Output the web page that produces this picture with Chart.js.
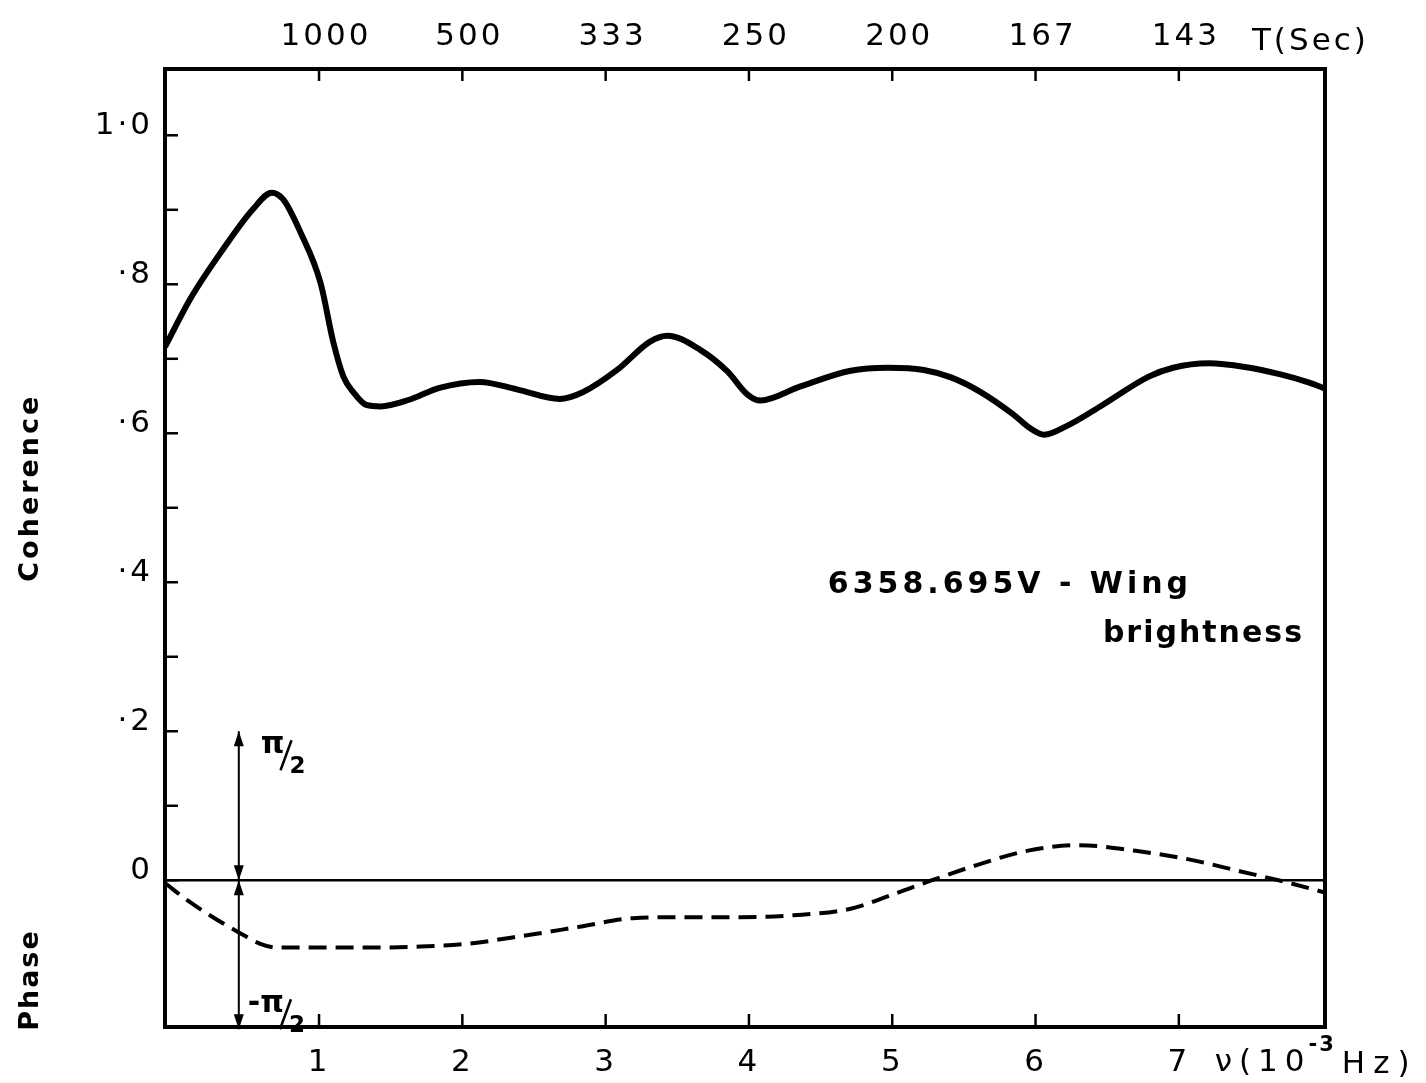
<!DOCTYPE html>
<html>
<head>
<meta charset="utf-8">
<script src="https://cdn.jsdelivr.net/npm/chart.js@4.4.1/dist/chart.umd.min.js"></script>
<style>
  html, body { margin: 0; padding: 0; background: #fff; }
  #wrap { width: 1426px; height: 1083px; }
</style>
</head>
<body>
<div id="wrap"><canvas id="chart" width="1426" height="1083"></canvas></div>
<script>
const canvas = document.getElementById("chart");
const FONT = "'DejaVu Sans', sans-serif";

// bottom axis: frequency in 10^-3 Hz
const freqTicks = [1, 2, 3, 4, 5, 6, 7];
const freqLabels = ["1", "2", "3", "4", "5", "6", "7"];
// top axis: period T = 1000 / nu (sec)
const periodLabels = ["1000", "500", "333", "250", "200", "167", "143"];
// left axis: coherence
const cohTicks = [0, 0.1, 0.2, 0.3, 0.4, 0.5, 0.6, 0.7, 0.8, 0.9, 1.0];
const cohLabels = ["0", "", "·2", "", "·4", "", "·6", "", "·8", "", "1·0"];

// coherence curve (solid)
const cohFreq = [-0.075, 0.10, 0.33, 0.54, 0.67, 0.75, 0.87, 1.01, 1.10, 1.17, 1.24, 1.33, 1.43, 1.63, 1.84,
    2.12, 2.38, 2.68, 2.84, 3.08, 3.31, 3.43, 3.66, 3.85, 3.99, 4.08, 4.36, 4.71, 4.97, 5.22, 5.41, 5.62,
    5.84, 5.96, 6.06, 6.22, 6.46, 6.79, 6.96, 7.21, 7.46, 7.71, 7.91, 8.02];
const coherence = [0.716, 0.780, 0.847, 0.901, 0.923, 0.914, 0.870, 0.802, 0.722, 0.676, 0.655, 0.638, 0.636, 0.645, 0.661,
    0.669, 0.659, 0.646, 0.655, 0.685, 0.723, 0.731, 0.712, 0.683, 0.652, 0.644, 0.663, 0.684, 0.688, 0.685, 0.675, 0.655,
    0.626, 0.607, 0.598, 0.610, 0.637, 0.676, 0.688, 0.694, 0.689, 0.679, 0.668, 0.660];

// phase curve (dashed), radians; pi/2 is drawn at the height of coherence 0.2
const phaseFreq = [-0.075, 0.08, 0.26, 0.44, 0.59, 0.71, 0.99, 1.33, 1.68, 2.03, 2.45, 2.82, 3.19, 3.52,
    3.94, 4.31, 4.71, 5.04, 5.24, 5.59, 5.94, 6.30, 6.70, 7.07, 7.44, 7.75, 8.02];
const phase = [-0.03, -0.21, -0.39, -0.55, -0.67, -0.71, -0.71, -0.71, -0.70, -0.67, -0.58, -0.49, -0.40, -0.39,
    -0.39, -0.37, -0.30, -0.13, -0.02, 0.16, 0.31, 0.37, 0.31, 0.22, 0.09, -0.02, -0.13];

const X_MIN = -0.075, X_MAX = 8.02;
const Y_MIN = -0.197, Y_MAX = 1.089;
const PHASE_SCALE = (Math.PI / 2) / 0.2;
const ARROW_FREQ = 0.44;

function line(ctx, x1, y1, x2, y2) {
    ctx.beginPath();
    ctx.moveTo(x1, y1);
    ctx.lineTo(x2, y2);
    ctx.stroke();
}

function arrowHead(ctx, x, y, dir) {
    // dir = -1 points up, 1 points down
    ctx.beginPath();
    ctx.moveTo(x, y);
    ctx.lineTo(x - 5, y - dir * 15);
    ctx.lineTo(x + 5, y - dir * 15);
    ctx.closePath();
    ctx.fill();
}

function text(ctx, str, x, y, size, opts = {}) {
    ctx.save();
    ctx.font = (opts.weight || "normal") + " " + size + "px " + FONT;
    ctx.letterSpacing = (opts.spacing !== undefined ? opts.spacing : 3) + "px";
    ctx.textAlign = opts.align || "left";
    ctx.textBaseline = opts.baseline || "alphabetic";
    ctx.fillStyle = "#000";
    if (opts.rotate) {
        ctx.translate(x, y);
        ctx.rotate(opts.rotate);
        ctx.fillText(str, 0, 0);
    } else {
        ctx.fillText(str, x, y);
    }
    ctx.restore();
}

// "pi over 2" written as a slanted fraction
function halfPi(ctx, x, y, sign) {
    text(ctx, sign + "π", x, y, 30, { spacing: 0, weight: "bold" });
    ctx.save();
    ctx.font = "bold 30px " + FONT;
    ctx.letterSpacing = "0px";
    const w = ctx.measureText(sign + "π").width;
    ctx.restore();
    ctx.save();
    ctx.strokeStyle = "#000";
    ctx.lineWidth = 2.5;
    line(ctx, x + w - 4, y + 17, x + w + 7, y - 13);
    ctx.restore();
    text(ctx, "2", x + w + 5, y + 20, 23, { spacing: 0, weight: "bold" });
}

const figure = {
    id: "figure",
    beforeDraw(chart) {
        chart.ctx.letterSpacing = "3px";
    },
    afterDatasetsDraw(chart) {
        const { ctx, chartArea: a, scales } = chart;
        ctx.save();
        ctx.strokeStyle = "#000";
        ctx.lineWidth = 2.5;
        // inward tick marks
        scales.y.ticks.forEach((t) => {
            const py = scales.y.getPixelForValue(t.value);
            line(ctx, a.left, py, a.left + 13, py);
        });
        scales.x.ticks.forEach((t) => {
            const px = scales.x.getPixelForValue(t.value);
            line(ctx, px, a.bottom, px, a.bottom - 13);
        });
        scales.x2.ticks.forEach((t) => {
            const px = scales.x2.getPixelForValue(t.value);
            line(ctx, px, a.top, px, a.top + 12);
        });
        // frame
        ctx.lineWidth = 4;
        ctx.strokeRect(a.left, a.top, a.right - a.left, a.bottom - a.top);
        ctx.restore();
    },
    afterDraw(chart) {
        const { ctx, chartArea: a, scales } = chart;
        const x = scales.x, y = scales.y, yp = scales.yPhase;
        ctx.save();
        ctx.letterSpacing = "0px";
        ctx.strokeStyle = "#000";
        ctx.fillStyle = "#000";
        ctx.lineWidth = 2;

        // pi/2 arrows
        const ax = x.getPixelForValue(ARROW_FREQ);
        const y0 = yp.getPixelForValue(0);
        const yUp = yp.getPixelForValue(Math.PI / 2);
        const yDown = yp.getPixelForValue(-Math.PI / 2);
        line(ctx, ax, yUp, ax, yDown);
        arrowHead(ctx, ax, yUp, -1);
        arrowHead(ctx, ax, y0, 1);
        arrowHead(ctx, ax, y0, -1);
        arrowHead(ctx, ax, yDown, 1);
        ctx.restore();

        halfPi(ctx, ax + 22, yUp + 22, "");
        halfPi(ctx, ax + 9, yDown - 17, "-");

        // axis names
        text(ctx, "Coherence", a.left - 134, y.getPixelForValue(0.527), 27,
            { align: "center", baseline: "middle", rotate: -Math.PI / 2, weight: "bold", spacing: 3 });
        text(ctx, "Phase", a.left - 134, y.getPixelForValue(-0.134), 27,
            { align: "center", baseline: "middle", rotate: -Math.PI / 2, weight: "bold", spacing: 2 });

        // unit labels
        text(ctx, "T(Sec)", x.getPixelForValue(7.51), 42, 31, { baseline: "middle", spacing: 3 });
        const uy = a.bottom + 36;
        let ux = x.getPixelForValue(7.25);
        ctx.save();
        ctx.font = "31px " + FONT;
        ctx.letterSpacing = "7px";
        text(ctx, "ν(10", ux, uy, 31, { baseline: "middle", spacing: 7 });
        ux += ctx.measureText("ν(10").width - 3;
        ctx.font = "bold 21px " + FONT;
        ctx.letterSpacing = "2px";
        text(ctx, "-3", ux, uy - 17, 21, { baseline: "middle", spacing: 2, weight: "bold" });
        ux += ctx.measureText("-3").width + 6;
        text(ctx, "Hz)", ux, uy + 2, 31, { baseline: "middle", spacing: 8 });
        ctx.restore();

        // line annotation
        text(ctx, "6358.695V - Wing", x.getPixelForValue(4.55), y.getPixelForValue(0.385), 30,
            { weight: "bold", spacing: 4 });
        text(ctx, "brightness", x.getPixelForValue(6.47), y.getPixelForValue(0.32), 30,
            { weight: "bold", spacing: 2 });
    },
};

const chartInstance = new Chart(canvas, {
    type: "line",
    data: {
        datasets: [
            {
                label: "Coherence",
                data: cohFreq.map((f, i) => ({ x: f, y: coherence[i] })),
                borderColor: "#000",
                borderWidth: 6,
                pointRadius: 0,
                cubicInterpolationMode: "monotone",
                fill: false,
                xAxisID: "x",
                yAxisID: "y",
            },
            {
                label: "Phase",
                data: phaseFreq.map((f, i) => ({ x: f, y: phase[i] })),
                borderColor: "#000",
                borderWidth: 4,
                borderDash: [18, 9],
                pointRadius: 0,
                cubicInterpolationMode: "monotone",
                fill: false,
                xAxisID: "x",
                yAxisID: "yPhase",
            },
        ],
    },
    options: {
        responsive: false,
        animation: false,
        devicePixelRatio: 1,
        layout: { padding: { left: 0, right: 101, top: 0, bottom: 0 } },
        plugins: {
            legend: { display: false },
            tooltip: { enabled: false },
        },
        scales: {
            x: {
                type: "linear",
                position: "bottom",
                min: X_MIN,
                max: X_MAX,
                afterBuildTicks: (s) => { s.ticks = freqTicks.map((v) => ({ value: v })); },
                afterFit: (s) => { s.height = 56; },
                grid: { drawOnChartArea: false, drawTicks: false },
                border: { display: false },
                ticks: {
                    callback: (v) => freqLabels[freqTicks.indexOf(v)],
                    font: { family: FONT, size: 31 },
                    color: "#000",
                    padding: 17,
                    maxRotation: 0,
                    autoSkip: false,
                },
            },
            x2: {
                type: "linear",
                axis: "x",
                position: "top",
                min: X_MIN,
                max: X_MAX,
                afterBuildTicks: (s) => { s.ticks = freqTicks.map((v) => ({ value: v })); },
                afterFit: (s) => { s.height = 69; },
                grid: { drawOnChartArea: false, drawTicks: false },
                border: { display: false },
                ticks: {
                    callback: (v) => periodLabels[freqTicks.indexOf(v)],
                    font: { family: FONT, size: 31 },
                    color: "#000",
                    padding: 13,
                    labelOffset: 7,
                    maxRotation: 0,
                    autoSkip: false,
                },
            },
            y: {
                type: "linear",
                position: "left",
                min: Y_MIN,
                max: Y_MAX,
                afterBuildTicks: (s) => { s.ticks = cohTicks.map((v) => ({ value: v })); },
                afterFit: (s) => { s.width = 165; },
                grid: {
                    color: (c) => (c.tick && c.tick.value === 0 ? "#000" : "rgba(0,0,0,0)"),
                    lineWidth: 2.5,
                    drawTicks: false,
                },
                border: { display: false },
                ticks: {
                    callback: (v) => cohLabels[cohTicks.indexOf(v)],
                    font: { family: FONT, size: 31 },
                    color: "#000",
                    padding: 12,
                    labelOffset: -9,
                    autoSkip: false,
                },
            },
            yPhase: {
                type: "linear",
                axis: "y",
                position: "right",
                display: false,
                min: Y_MIN * PHASE_SCALE,
                max: Y_MAX * PHASE_SCALE,
            },
        },
    },
    plugins: [figure],
});
</script>
</body>
</html>
